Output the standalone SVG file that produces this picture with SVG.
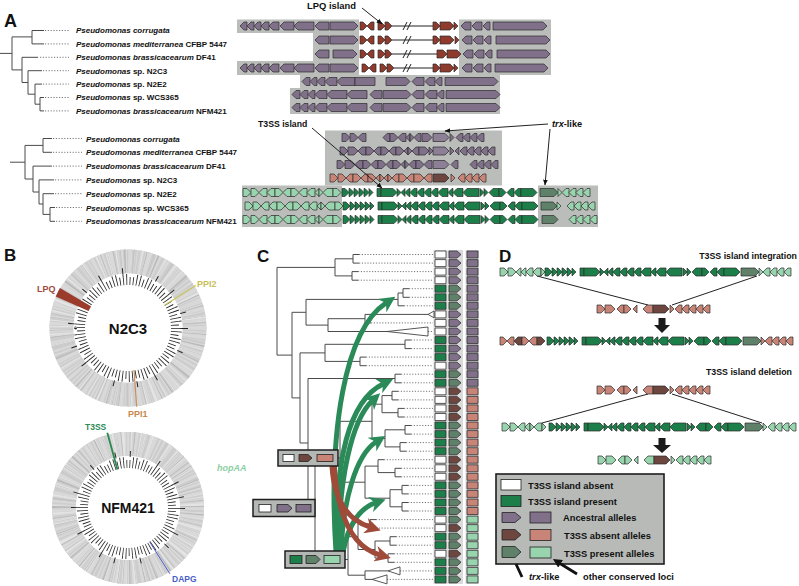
<svg xmlns="http://www.w3.org/2000/svg" width="799" height="586" viewBox="0 0 799 586">
<style>
.t{font-family:"Liberation Sans",Arial,sans-serif;font-weight:bold;fill:#111}
.p{fill:#80708a}.pt{fill:#8d7f96}.br{fill:#8e3a2c}.dg{fill:#1c7f49}.lg{fill:#98d4ad}.tx{fill:#5f8069}.sa{fill:#c98478}.bt{fill:#6e4640}.w{fill:#fff}
.bg{fill:#babdba}
.tr{fill:none;stroke:#4a4a4a;stroke-width:1}
.dot{fill:none;stroke:#555;stroke-width:.8;stroke-dasharray:1.2 1.6}
.ln{fill:none;stroke:#222;stroke-width:1}
</style>
<defs>
<path id="r5" d="M0,-4H1L5,0L1,4H0Z"/>
<path id="r7" d="M0,-4H3L7,0L3,4H0Z"/>
<path id="r8" d="M0,-4H4L8,0L4,4H0Z"/>
<path id="r10" d="M0,-4H6L10,0L6,4H0Z"/>
<path id="r12" d="M0,-4H8L12,0L8,4H0Z"/>
<path id="r14" d="M0,-4H10L14,0L10,4H0Z"/>
<path id="r16" d="M0,-4H12L16,0L12,4H0Z"/>
<path id="r18" d="M0,-4H14L18,0L14,4H0Z"/>
<path id="r20" d="M0,-4H16L20,0L16,4H0Z"/>
<path id="r24" d="M0,-4H20L24,0L20,4H0Z"/>
<path id="r28" d="M0,-4H24L28,0L24,4H0Z"/>
<path id="l5" d="M5,-4H4L0,0L4,4H5Z"/>
<path id="l7" d="M7,-4H4L0,0L4,4H7Z"/>
<path id="l8" d="M8,-4H4L0,0L4,4H8Z"/>
<path id="l10" d="M10,-4H4L0,0L4,4H10Z"/>
<path id="l12" d="M12,-4H4L0,0L4,4H12Z"/>
<path id="l14" d="M14,-4H4L0,0L4,4H14Z"/>
<path id="l16" d="M16,-4H4L0,0L4,4H16Z"/>
<path id="l18" d="M18,-4H4L0,0L4,4H18Z"/>
<path id="l20" d="M20,-4H4L0,0L4,4H20Z"/>
<path id="t4r" d="M0,-4L4,0L0,4Z"/>
<path id="t4l" d="M4,-4L0,0L4,4Z"/>
<path id="rc4" d="M0,-4H4V4H0Z"/>
<path id="rc20" d="M0,-4H20V4H0Z"/>
<path id="cb" d="M0,-3.5H11V3.5H0Z"/>
<path id="ca" d="M0,-3.5H8L12,0L8,3.5H0Z"/>
<g id="isl">
<use href="#r7" x="0"/><use href="#r5" x="7"/><use href="#r5" x="12"/><use href="#r5" x="17"/><use href="#r5" x="22"/><use href="#t4r" x="27"/>
<use href="#rc4" x="35"/><use href="#r16" x="39"/><use href="#t4r" x="55"/><use href="#t4l" x="59"/>
<use href="#l5" x="63"/><use href="#l7" x="68"/><use href="#l7" x="75"/><use href="#l7" x="82"/><use href="#l7" x="89"/><use href="#l10" x="96"/><use href="#l5" x="106"/><use href="#l10" x="111"/><use href="#l16" x="121"/>
<use href="#t4r" x="138"/><use href="#t4r" x="142"/><use href="#l10" x="147"/><use href="#r7" x="157"/><use href="#l7" x="165"/><use href="#l7" x="172"/><use href="#r16" x="179"/>
</g>
<g id="lf">
<use href="#r8" x="0"/><use href="#r8" x="8"/><use href="#l8" x="16"/><use href="#l8" x="24"/><use href="#r8" x="32"/><use href="#l8" x="40"/><use href="#r8" x="48"/><use href="#l8" x="56"/><use href="#l8" x="64"/><use href="#t4l" x="72"/><use href="#t4r" x="76"/><use href="#l10" x="80"/><use href="#r8" x="90"/>
</g>
<g id="frag">
<use href="#r8" x="0"/><use href="#r10" x="8"/><use href="#l7" x="20"/><use href="#r7" x="27"/><use href="#t4l" x="36"/><use href="#l10" x="46"/><use href="#r16" x="56" fill="#6e4640"/><use href="#t4r" x="73"/><use href="#l7" x="78"/><use href="#l7" x="85"/><use href="#l7" x="92"/><use href="#l7" x="99"/><use href="#l7" x="106"/>
</g>
<marker id="mg" viewBox="0 0 10 10" refX="3" refY="5" markerWidth="16" markerHeight="16" markerUnits="userSpaceOnUse" orient="auto"><path d="M0,0L10,5L0,10L3,5Z" fill="#2a8a58"/></marker>
<marker id="mr" viewBox="0 0 10 10" refX="3" refY="5" markerWidth="16" markerHeight="16" markerUnits="userSpaceOnUse" orient="auto"><path d="M0,0L10,5L0,10L3,5Z" fill="#a04a3a"/></marker>
<marker id="mk" viewBox="0 0 10 10" refX="9" refY="5" markerWidth="6" markerHeight="6" markerUnits="userSpaceOnUse" orient="auto"><path d="M0,1L10,5L0,9Z" fill="#111"/></marker>
<marker id="mk2" viewBox="0 0 10 10" refX="6" refY="5" markerWidth="9" markerHeight="9" markerUnits="userSpaceOnUse" orient="auto"><path d="M0,0L10,5L0,10Z" fill="#111"/></marker>
</defs>
<rect width="799" height="586" fill="#fff"/>

<g id="panelA">
<text class="t" x="4" y="27" font-size="18">A</text>
<g id="treeA1">
<path class="tr" d="M0,53.4H12M12,36.9V69.9M12,36.9H32M32,30.5V43.9M32,30.5H44M32,43.9H44M12,69.9H22M22,57.3V82.5M22,57.3H38M22,82.5H28M28,70.7V94.2M28,70.7H42M28,94.2H35M35,84.1V104.2M35,84.1H42M35,104.2H40M40,97.5V110.9M40,97.5H44M40,110.9H44"/>
<path class="dot" d="M45,30.5H69M45,43.9H69M40,57.3H69M43,70.7H69M43,84.1H69M45,97.5H69M45,110.9H69"/>
</g>
<g id="labelsA1" class="t" font-size="8">
<text x="76" y="33.4"><tspan font-style="italic">Pseudomonas corrugata</tspan></text>
<text x="76" y="46.8"><tspan font-style="italic">Pseudomonas mediterranea</tspan> CFBP 5447</text>
<text x="76" y="60.2"><tspan font-style="italic">Pseudomonas brassicacearum</tspan> DF41</text>
<text x="76" y="73.6"><tspan font-style="italic">Pseudomonas</tspan> sp. N2C3</text>
<text x="76" y="87"><tspan font-style="italic">Pseudomonas</tspan> sp. N2E2</text>
<text x="76" y="100.4"><tspan font-style="italic">Pseudomonas</tspan> sp. WCS365</text>
<text x="76" y="113.8"><tspan font-style="italic">Pseudomonas brassicacearum</tspan> NFM421</text>
</g>
<g id="lpqGenes">
<path class="bg" d="M237,19.5H359V75H237V61H313V33H237Z"/>
<rect class="bg" x="459" y="19.5" width="92" height="55.5"/>
<path class="bg" d="M300,75H500V114H290V88H300Z"/>
<path class="ln" stroke-width="0.8" d="M392,26H433M392,40H433M392,54H437M394,68H433M403,30L407,22M407,30L411,22M403,44L407,36M407,44L411,36M403,58L407,50M407,58L411,50M403,72L407,64M407,72L411,64"/>
<g stroke="#2b2b2b" stroke-width="0.7">
<use href="#l7" x="240" y="26" class="p"/><use href="#l7" x="247" y="26" class="p"/><use href="#l7" x="254" y="26" class="p"/><use href="#l8" x="261" y="26" class="p"/><use href="#l10" x="269" y="26" class="p"/><use href="#l14" x="280" y="26" class="p"/><use href="#l20" x="294" y="26" class="p"/><use href="#l14" x="315" y="26" class="p"/><use href="#r28" x="330" y="26" class="p"/>
<use href="#r7" x="360" y="26" class="br"/><use href="#l7" x="367" y="26" class="br"/><use href="#r7" x="378" y="26" class="br"/><use href="#r7" x="385" y="26" class="br"/>
<use href="#r7" x="433" y="26" class="br"/><use href="#r14" x="440" y="26" class="br"/><use href="#t4r" x="454" y="26" class="br"/>
<use href="#l10" x="461" y="26" class="p"/><use href="#l10" x="472" y="26" class="p"/><use href="#l7" x="483" y="26" class="p"/><path class="p" d="M493,22H543L547,26L543,30H493Z"/>

<use href="#l14" x="315" y="40" class="p"/><use href="#r28" x="330" y="40" class="p"/>
<use href="#r7" x="360" y="40" class="br"/><use href="#l7" x="367" y="40" class="br"/><use href="#r7" x="378" y="40" class="br"/><use href="#r7" x="385" y="40" class="br"/>
<use href="#r7" x="433" y="40" class="br"/><use href="#r14" x="440" y="40" class="br"/><use href="#t4r" x="455" y="40" class="br"/>
<use href="#l10" x="462" y="40" class="p"/><use href="#l10" x="473" y="40" class="p"/><use href="#l7" x="484" y="40" class="p"/><path class="p" d="M496,36H546L550,40L546,44H496Z"/>

<use href="#l14" x="315" y="54" class="p"/><use href="#r24" x="333" y="54" class="p"/>
<use href="#r7" x="360" y="54" class="br"/><use href="#l7" x="367" y="54" class="br"/><use href="#r7" x="378" y="54" class="br"/><use href="#r7" x="385" y="54" class="br"/>
<use href="#r10" x="437" y="54" class="br"/><use href="#r14" x="447" y="54" class="br"/>
<use href="#l10" x="463" y="54" class="p"/><use href="#l10" x="474" y="54" class="p"/><use href="#l7" x="485" y="54" class="p"/><path class="p" d="M497,50H546L550,54L546,58H497Z"/>

<use href="#l7" x="240" y="68" class="p"/><use href="#l7" x="247" y="68" class="p"/><use href="#l7" x="254" y="68" class="p"/><use href="#l8" x="261" y="68" class="p"/><use href="#l10" x="269" y="68" class="p"/><use href="#l14" x="280" y="68" class="p"/><use href="#l20" x="294" y="68" class="p"/><use href="#l14" x="315" y="68" class="p"/><use href="#r28" x="330" y="68" class="p"/>
<use href="#r7" x="362" y="68" class="br"/><use href="#l7" x="369" y="68" class="br"/><use href="#r7" x="380" y="68" class="br"/><use href="#r7" x="387" y="68" class="br"/>
<use href="#r7" x="433" y="68" class="br"/><use href="#r14" x="440" y="68" class="br"/><use href="#t4r" x="454" y="68" class="br"/>
<use href="#l10" x="462" y="68" class="p"/><use href="#l10" x="473" y="68" class="p"/><use href="#l7" x="484" y="68" class="p"/><path class="p" d="M495,64H544L548,68L544,72H495Z"/>

<use href="#l8" x="302" y="81.5" class="p"/><use href="#l7" x="310" y="81.5" class="p"/><use href="#l8" x="317" y="81.5" class="p"/><use href="#l12" x="325" y="81.5" class="p"/><use href="#l18" x="337" y="81.5" class="p"/><use href="#rc20" x="355" y="81.5" class="p"/><use href="#r24" x="386" y="81.5" class="p"/><use href="#l12" x="412" y="81.5" class="p"/><use href="#l10" x="425" y="81.5" class="p"/><use href="#l7" x="435" y="81.5" class="p"/><path class="p" d="M445,77.5H494L498,81.5L494,85.5H445Z"/>

<use href="#l8" x="292" y="94.5" class="p"/><use href="#l8" x="300" y="94.5" class="p"/><use href="#l7" x="308" y="94.5" class="p"/><use href="#l12" x="315" y="94.5" class="p"/><use href="#l20" x="327" y="94.5" class="p"/><use href="#l20" x="347" y="94.5" class="p"/><use href="#l12" x="370" y="94.5" class="p"/><use href="#r28" x="383" y="94.5" class="p"/><use href="#l12" x="412" y="94.5" class="p"/><use href="#l12" x="425" y="94.5" class="p"/><use href="#l7" x="437" y="94.5" class="p"/><path class="p" d="M446,90.5H496L500,94.5L496,98.5H446Z"/>

<use href="#l8" x="292" y="107.5" class="p"/><use href="#l8" x="300" y="107.5" class="p"/><use href="#l7" x="308" y="107.5" class="p"/><use href="#l12" x="315" y="107.5" class="p"/><use href="#l20" x="327" y="107.5" class="p"/><use href="#l20" x="347" y="107.5" class="p"/><use href="#l12" x="370" y="107.5" class="p"/><use href="#r28" x="383" y="107.5" class="p"/><use href="#l12" x="412" y="107.5" class="p"/><use href="#l12" x="425" y="107.5" class="p"/><use href="#l7" x="437" y="107.5" class="p"/><path class="p" d="M446,103.5H496L500,107.5L496,111.5H446Z"/>
</g>
<text class="t" x="307" y="9" font-size="9.4">LPQ island</text>
<path class="ln" stroke-width="1.2" d="M362,8L382,24" marker-end="url(#mk)"/>
</g>

<g id="treeA2">
<path class="tr" d="M10,162.2H25M25,145.4V179M25,145.4H43M43,138.5V152.3M43,138.5H52M43,152.3H52M25,179H33M33,166.1V192M33,166.1H52M33,192H39M39,179.9V204M39,179.9H54M39,204H43M43,193.7V214.4M43,193.7H54M43,214.4H50M50,207.5V221.3M50,207.5H55M50,221.3H55"/>
<path class="dot" d="M53,138.5H82M53,152.3H82M53,166.1H82M55,179.9H82M55,193.7H82M56,207.5H82M56,221.3H82"/>
</g>
<g id="labelsA2" class="t" font-size="8">
<text x="86" y="141.5"><tspan font-style="italic">Pseudomonas corrugata</tspan></text>
<text x="86" y="155.3"><tspan font-style="italic">Pseudomonas mediterranea</tspan> CFBP 5447</text>
<text x="86" y="169.1"><tspan font-style="italic">Pseudomonas brassicacearum</tspan> DF41</text>
<text x="86" y="182.9"><tspan font-style="italic">Pseudomonas</tspan> sp. N2C3</text>
<text x="86" y="196.7"><tspan font-style="italic">Pseudomonas</tspan> sp. N2E2</text>
<text x="86" y="210.5"><tspan font-style="italic">Pseudomonas</tspan> sp. WCS365</text>
<text x="86" y="224.3"><tspan font-style="italic">Pseudomonas brassicacearum</tspan> NFM421</text>
</g>
<g id="t3ssGenes">
<rect class="bg" x="325" y="130.5" width="177" height="55"/>
<rect class="bg" x="242" y="185.5" width="100" height="41.5"/>
<rect class="bg" x="538" y="185.5" width="60" height="41.5"/>
<g stroke="#2b2b2b" stroke-width="0.7">
<use href="#r8" x="342" y="137.5" class="p"/><use href="#r8" x="350" y="137.5" class="p"/><use href="#l8" x="358" y="137.5" class="p"/><use href="#l7" x="383" y="137.5" class="p"/><use href="#r8" x="390" y="137.5" class="p"/><use href="#l8" x="398" y="137.5" class="p"/><use href="#t4l" x="406" y="137.5" class="p"/><use href="#t4r" x="410" y="137.5" class="p"/><use href="#l7" x="414" y="137.5" class="p"/><use href="#r10" x="422" y="137.5" class="p"/><use href="#r16" x="433" y="137.5" class="pt"/><use href="#t4r" x="450" y="137.5" class="p"/><use href="#l7" x="456" y="137.5" class="p"/><use href="#l7" x="463" y="137.5" class="p"/><use href="#l7" x="470" y="137.5" class="p"/><use href="#l7" x="477" y="137.5" class="p"/>

<use href="#r8" x="340" y="151" class="p"/><use href="#r10" x="348" y="151" class="p"/><use href="#l8" x="358" y="151" class="p"/><use href="#r8" x="366" y="151" class="p"/><use href="#l7" x="374" y="151" class="p"/><use href="#r8" x="381" y="151" class="p"/><use href="#l7" x="389" y="151" class="p"/><use href="#r8" x="396" y="151" class="p"/><use href="#t4l" x="404" y="151" class="p"/><use href="#t4r" x="408" y="151" class="p"/><use href="#l7" x="412" y="151" class="p"/><use href="#r10" x="419" y="151" class="p"/><use href="#t4r" x="429" y="151" class="p"/><use href="#r16" x="433" y="151" class="pt"/><use href="#t4r" x="450" y="151" class="p"/><use href="#t4l" x="455" y="151" class="p"/><use href="#l7" x="460" y="151" class="p"/><use href="#l7" x="467" y="151" class="p"/><use href="#l7" x="474" y="151" class="p"/><use href="#l7" x="481" y="151" class="p"/><use href="#l7" x="488" y="151" class="p"/>

<use href="#r8" x="337" y="164.5" class="p"/><use href="#r10" x="345" y="164.5" class="p"/><use href="#l8" x="355" y="164.5" class="p"/><use href="#r8" x="363" y="164.5" class="p"/><use href="#l7" x="371" y="164.5" class="p"/><use href="#r8" x="378" y="164.5" class="p"/><use href="#l7" x="386" y="164.5" class="p"/><use href="#r8" x="393" y="164.5" class="p"/><use href="#t4l" x="401" y="164.5" class="p"/><use href="#t4r" x="405" y="164.5" class="p"/><use href="#l7" x="409" y="164.5" class="p"/><use href="#r8" x="416" y="164.5" class="p"/><use href="#l8" x="424" y="164.5" class="p"/><use href="#r16" x="433" y="164.5" class="pt"/><use href="#l7" x="451" y="164.5" class="p"/><use href="#l7" x="470" y="164.5" class="p"/><use href="#l7" x="477" y="164.5" class="p"/><use href="#l7" x="484" y="164.5" class="p"/><use href="#l7" x="491" y="164.5" class="p"/>

<use href="#r8" x="330" y="178" class="sa"/><use href="#r8" x="338" y="178" class="sa"/><use href="#l7" x="346" y="178" class="sa"/><use href="#r8" x="353" y="178" class="sa"/><use href="#l7" x="361" y="178" class="sa"/><use href="#r8" x="368" y="178" class="sa"/><use href="#t4l" x="376" y="178" class="sa"/><use href="#t4r" x="380" y="178" class="sa"/><use href="#t4l" x="384" y="178" class="sa"/><use href="#t4r" x="388" y="178" class="sa"/><use href="#l7" x="392" y="178" class="sa"/><use href="#r8" x="399" y="178" class="sa"/><use href="#l7" x="407" y="178" class="sa"/><use href="#r10" x="414" y="178" class="sa"/><use href="#l8" x="424" y="178" class="sa"/><use href="#r16" x="433" y="178" class="bt"/><use href="#t4r" x="451" y="178" class="sa"/><use href="#l7" x="458" y="178" class="sa"/><use href="#l7" x="465" y="178" class="sa"/><use href="#l7" x="472" y="178" class="sa"/><use href="#l7" x="479" y="178" class="sa"/>

<use href="#lf" x="243" y="192.5" class="lg"/><use href="#isl" x="342" y="192.5" class="dg"/><use href="#r18" x="540" y="192.5" class="tx"/><use href="#t4r" x="558" y="192.5" class="lg"/><use href="#l7" x="562" y="192.5" class="lg"/><use href="#l7" x="569" y="192.5" class="lg"/><use href="#l7" x="576" y="192.5" class="lg"/><use href="#l7" x="583" y="192.5" class="lg"/>
<use href="#lf" x="245" y="206" class="lg"/><use href="#isl" x="343" y="206" class="dg"/><use href="#r16" x="541" y="206" class="tx"/><use href="#t4r" x="557" y="206" class="lg"/><use href="#l7" x="567" y="206" class="lg"/><use href="#l7" x="574" y="206" class="lg"/><use href="#l7" x="581" y="206" class="lg"/><use href="#l7" x="588" y="206" class="lg"/>
<use href="#lf" x="243" y="219.5" class="lg"/><use href="#isl" x="343" y="219.5" class="dg"/><use href="#r16" x="542" y="219.5" class="tx"/><use href="#l7" x="569" y="219.5" class="lg"/><use href="#l7" x="576" y="219.5" class="lg"/><use href="#l7" x="583" y="219.5" class="lg"/><use href="#l7" x="590" y="219.5" class="lg"/>
</g>
<text class="t" x="258" y="127" font-size="8.7">T3SS island</text>
<text class="t" x="552" y="127" font-size="9.2"><tspan font-style="italic">trx</tspan>-like</text>
<path class="ln" stroke-width="1.2" d="M312,128L382,188" marker-end="url(#mk)"/>
<path class="ln" stroke-width="1.2" d="M548,124L445,131" marker-end="url(#mk)"/>
<path class="ln" stroke-width="1.2" d="M550,129L545,185" marker-end="url(#mk)"/>
</g>
</g>

<g id="panelB">
<text class="t" x="4" y="261" font-size="17">B</text>
<g id="ringN2C3">
<circle cx="128" cy="328" r="66.5" fill="none" stroke="#cdcdcd" stroke-width="24"/>
<circle cx="128" cy="328" r="66.5" fill="none" stroke="#e4e4e4" stroke-width="24" pathLength="360" stroke-dasharray="0.8 2.1 0.5 3.3 1.4 1.7 0.6 4.2 2.2 2.8 0.4 1.9 1.1 3.5"/>
<circle cx="128" cy="328" r="66.5" fill="none" stroke="#b9b9b9" stroke-width="24" pathLength="360" stroke-dasharray="0.5 3.7 0.9 5.1 0.3 2.4 1.2 6.3 0.6 4.4"/>
<circle cx="128" cy="328" r="66.5" fill="none" stroke="#d9d9d9" stroke-width="24" pathLength="360" stroke-dasharray="1.5 2.3 0.7 1.1 2.9 3.6 0.9 1.7"/>
<circle cx="128" cy="328" r="54.5" fill="#fff"/>
<circle cx="128" cy="328" r="47" fill="none" stroke="#222" stroke-width="8" pathLength="360" stroke-dasharray="1 3"/>
<circle cx="128" cy="328" r="52.5" fill="none" stroke="#222" stroke-width="3" pathLength="360" stroke-dasharray="1 3 1 7 1 3 1 11"/>
<circle cx="128" cy="328" r="57" fill="none" stroke="#222" stroke-width="6" pathLength="360" stroke-dasharray="1 23 1 35 1 19"/>
<path d="M55.6,296.5L59.9,287.9L91,306.2L88.6,310.9Z" fill="#9a3b2c"/>
<path d="M164.5,305.2L195.8,285.6" stroke="#c8c45a" stroke-width="1.2"/>
<path d="M134,370L136.7,406.7" stroke="#c8925a" stroke-width="1.2"/>
<text class="t" x="128" y="333.5" font-size="15" text-anchor="middle">N2C3</text>
<text class="t" x="37" y="292" font-size="9" style="fill:#a34a3c">LPQ</text>
<text class="t" x="197" y="287" font-size="9" style="fill:#c9c05a">PPI2</text>
<text class="t" x="128" y="417" font-size="9" style="fill:#c8874f">PPI1</text>
</g>
<g id="ringNFM421">
<circle cx="128" cy="508" r="64" fill="none" stroke="#cdcdcd" stroke-width="24"/>
<circle cx="128" cy="508" r="64" fill="none" stroke="#e4e4e4" stroke-width="24" pathLength="360" stroke-dasharray="1.1 2.6 0.6 3.1 1.8 1.4 0.7 3.9 2.5 2.2 0.5 2.3"/>
<circle cx="128" cy="508" r="64" fill="none" stroke="#b9b9b9" stroke-width="24" pathLength="360" stroke-dasharray="0.6 4.1 1.0 4.8 0.4 2.9 1.3 5.7"/>
<circle cx="128" cy="508" r="64" fill="none" stroke="#d9d9d9" stroke-width="24" pathLength="360" stroke-dasharray="1.3 2.7 0.8 1.3 2.4 3.2 1.0 1.5"/>
<circle cx="128" cy="508" r="52" fill="#fff"/>
<circle cx="128" cy="508" r="44" fill="none" stroke="#222" stroke-width="8" pathLength="360" stroke-dasharray="1 3"/>
<circle cx="128" cy="508" r="49.5" fill="none" stroke="#222" stroke-width="3" pathLength="360" stroke-dasharray="1 7 1 3 1 11 1 3"/>
<circle cx="128" cy="508" r="54" fill="none" stroke="#222" stroke-width="6" pathLength="360" stroke-dasharray="1 27 1 15 1 31"/>
<path d="M117.4,469.4L107.3,432.8" stroke="#2a8a50" stroke-width="1.8"/>
<path d="M149.5,541.7L169.9,573.8" stroke="#4a5ec8" stroke-width="1"/>
<text class="t" x="128" y="513" font-size="14" text-anchor="middle">NFM421</text>
<text class="t" x="85" y="430" font-size="8.5" style="fill:#2e8a55">T3SS</text>
<text class="t" x="217" y="471" font-size="9" font-style="italic" style="fill:#8ccfa4">hopAA</text>
<text class="t" x="172" y="582" font-size="8.5" style="fill:#4a5ec8">DAPG</text>
</g>
</g>

<g id="panelC">
<text class="t" x="257" y="262" font-size="17">C</text>
<g id="colStrips" fill="#dadada">
<rect x="433.5" y="250" width="14" height="334"/><rect x="447.5" y="250" width="15.5" height="334"/><rect x="465.5" y="250" width="13.5" height="334"/>
</g>
<g id="columns" stroke="#333" stroke-width="0.8">
<use href="#cb" x="435" y="254.5" class="w"/><use href="#ca" x="449" y="254.5" class="p"/><use href="#cb" x="467" y="254.5" class="p"/>
<use href="#cb" x="435" y="263.1" class="w"/><use href="#ca" x="449" y="263.1" class="p"/><use href="#cb" x="467" y="263.1" class="p"/>
<use href="#cb" x="435" y="271.6" class="w"/><use href="#ca" x="449" y="271.6" class="p"/><use href="#cb" x="467" y="271.6" class="p"/>
<use href="#cb" x="435" y="280.2" class="w"/><use href="#ca" x="449" y="280.2" class="p"/><use href="#cb" x="467" y="280.2" class="p"/>
<use href="#cb" x="435" y="288.7" class="dg"/><use href="#ca" x="449" y="288.7" class="tx"/><use href="#cb" x="467" y="288.7" class="p"/>
<use href="#cb" x="435" y="297.3" class="dg"/><use href="#ca" x="449" y="297.3" class="tx"/><use href="#cb" x="467" y="297.3" class="p"/>
<use href="#cb" x="435" y="305.8" class="dg"/><use href="#ca" x="449" y="305.8" class="tx"/><use href="#cb" x="467" y="305.8" class="p"/>
<use href="#cb" x="435" y="314.4" class="w"/><use href="#ca" x="449" y="314.4" class="p"/><use href="#cb" x="467" y="314.4" class="p"/>
<use href="#cb" x="435" y="322.9" class="w"/><use href="#ca" x="449" y="322.9" class="p"/><use href="#cb" x="467" y="322.9" class="p"/>
<use href="#cb" x="435" y="331.5" class="w"/><use href="#ca" x="449" y="331.5" class="p"/><use href="#cb" x="467" y="331.5" class="p"/>
<use href="#cb" x="435" y="340" class="dg"/><use href="#ca" x="449" y="340" class="p"/><use href="#cb" x="467" y="340" class="p"/>
<use href="#cb" x="435" y="348.6" class="dg"/><use href="#ca" x="449" y="348.6" class="p"/><use href="#cb" x="467" y="348.6" class="p"/>
<use href="#cb" x="435" y="357.1" class="dg"/><use href="#ca" x="449" y="357.1" class="p"/><use href="#cb" x="467" y="357.1" class="p"/>
<use href="#cb" x="435" y="365.7" class="w"/><use href="#ca" x="449" y="365.7" class="p"/><use href="#cb" x="467" y="365.7" class="p"/>
<use href="#cb" x="435" y="374.2" class="dg"/><use href="#ca" x="449" y="374.2" class="tx"/><use href="#cb" x="467" y="374.2" class="p"/>
<use href="#cb" x="435" y="382.8" class="dg"/><use href="#ca" x="449" y="382.8" class="tx"/><use href="#cb" x="467" y="382.8" class="p"/>
<use href="#cb" x="435" y="391.3" class="w"/><use href="#ca" x="449" y="391.3" class="bt"/><use href="#cb" x="467" y="391.3" class="sa"/>
<use href="#cb" x="435" y="399.9" class="w"/><use href="#ca" x="449" y="399.9" class="bt"/><use href="#cb" x="467" y="399.9" class="sa"/>
<use href="#cb" x="435" y="408.4" class="w"/><use href="#ca" x="449" y="408.4" class="bt"/><use href="#cb" x="467" y="408.4" class="sa"/>
<use href="#cb" x="435" y="417" class="w"/><use href="#ca" x="449" y="417" class="bt"/><use href="#cb" x="467" y="417" class="sa"/>
<use href="#cb" x="435" y="425.5" class="dg"/><use href="#ca" x="449" y="425.5" class="tx"/><use href="#cb" x="467" y="425.5" class="sa"/>
<use href="#cb" x="435" y="434.1" class="dg"/><use href="#ca" x="449" y="434.1" class="tx"/><use href="#cb" x="467" y="434.1" class="sa"/>
<use href="#cb" x="435" y="442.6" class="dg"/><use href="#ca" x="449" y="442.6" class="tx"/><use href="#cb" x="467" y="442.6" class="sa"/>
<use href="#cb" x="435" y="451.2" class="dg"/><use href="#ca" x="449" y="451.2" class="tx"/><use href="#cb" x="467" y="451.2" class="sa"/>
<use href="#cb" x="435" y="459.7" class="w"/><use href="#ca" x="449" y="459.7" class="bt"/><use href="#cb" x="467" y="459.7" class="sa"/>
<use href="#cb" x="435" y="468.3" class="w"/><use href="#ca" x="449" y="468.3" class="bt"/><use href="#cb" x="467" y="468.3" class="sa"/>
<use href="#cb" x="435" y="476.8" class="w"/><use href="#ca" x="449" y="476.8" class="bt"/><use href="#cb" x="467" y="476.8" class="sa"/>
<use href="#cb" x="435" y="485.4" class="dg"/><use href="#ca" x="449" y="485.4" class="tx"/><use href="#cb" x="467" y="485.4" class="sa"/>
<use href="#cb" x="435" y="493.9" class="dg"/><use href="#ca" x="449" y="493.9" class="tx"/><use href="#cb" x="467" y="493.9" class="sa"/>
<use href="#cb" x="435" y="502.5" class="dg"/><use href="#ca" x="449" y="502.5" class="tx"/><use href="#cb" x="467" y="502.5" class="sa"/>
<use href="#cb" x="435" y="511" class="dg"/><use href="#ca" x="449" y="511" class="tx"/><use href="#cb" x="467" y="511" class="sa"/>
<use href="#cb" x="435" y="519.6" class="w"/><use href="#ca" x="449" y="519.6" class="tx"/><use href="#cb" x="467" y="519.6" class="lg"/>
<use href="#cb" x="435" y="528.1" class="w"/><use href="#ca" x="449" y="528.1" class="bt"/><use href="#cb" x="467" y="528.1" class="lg"/>
<use href="#cb" x="435" y="536.7" class="dg"/><use href="#ca" x="449" y="536.7" class="tx"/><use href="#cb" x="467" y="536.7" class="lg"/>
<use href="#cb" x="435" y="545.2" class="dg"/><use href="#ca" x="449" y="545.2" class="tx"/><use href="#cb" x="467" y="545.2" class="lg"/>
<use href="#cb" x="435" y="553.8" class="w"/><use href="#ca" x="449" y="553.8" class="bt"/><use href="#cb" x="467" y="553.8" class="lg"/>
<use href="#cb" x="435" y="562.3" class="dg"/><use href="#ca" x="449" y="562.3" class="tx"/><use href="#cb" x="467" y="562.3" class="lg"/>
<use href="#cb" x="435" y="570.9" class="dg"/><use href="#ca" x="449" y="570.9" class="tx"/><use href="#cb" x="467" y="570.9" class="lg"/>
<use href="#cb" x="435" y="579.4" class="dg"/><use href="#ca" x="449" y="579.4" class="tx"/><use href="#cb" x="467" y="579.4" class="lg"/>
</g>
<g id="treeC">
<path class="tr" d="M277,267.4V355.1M277,267.4H335M335,258.8V275.9M335,258.8H353M353,254.5V263.1M335,275.9H352M352,271.6V280.2M277,355.1H292M292,312.3V397.9M292,312.3H306M306,299.4V325.1M306,299.4H398M398,293V305.8M398,293H403M403,288.7V297.3M306,325.1H328M328,318.7V331.5M328,318.7H365M365,314.4V322.9M292,397.9H300M300,352.9V443M300,352.9H325M325,344.3V361.4M325,344.3H405M405,340V348.6M325,361.4H360M360,357.1V365.7M300,443H308M308,378.5V508M308,378.5H395M395,374.2V382.8M308,508H315M315,458V559.5M315,458H340M340,421.3V482.2M340,421.3H372M372,404.2V438.4M372,404.2H382M382,395.6V412.7M382,395.6H392M392,391.3V399.9M382,412.7H398M398,408.4V417M372,438.4H385M385,429.8V446.9M385,429.8H405M405,425.5V434.1M385,446.9H400M400,442.6V451.2M340,482.2H365M365,466.1V498.2M365,466.1H378M378,459.7V472.6M378,472.6H395M395,468.3V476.8M365,498.2H390M390,489.7V506.8M390,489.7H402M402,485.4V493.9M390,506.8H402M402,502.5V511M315,559.5H348M348,536.7V575.2M348,536.7H358M358,523.9V549.5M358,523.9H370M370,519.6V528.1M358,549.5H375M375,541V558M375,541H390M390,536.7V545.2M375,558H388M388,553.8V562.3M348,575.2H365M365,570.9V579.4"/>
<path class="tr" d="M353,254.5h6M353,263.1h6M352,271.6h6M352,280.2h6M403,288.7h6M403,297.3h6M398,305.8h6M365,314.4H428M365,322.9h6M328,331.5H387M405,340h6M405,348.6h6M360,357.1h6M360,365.7h6M395,374.2h6M395,382.8h6M392,391.3h6M392,399.9h6M398,408.4h6M398,417h6M405,425.5h6M405,434.1h6M400,442.6h6M400,451.2h6M378,459.7h6M395,468.3h6M395,476.8h6M402,485.4h6M402,493.9h6M402,502.5h6M402,511h6M370,519.6h6M370,528.1h6M390,536.7h6M390,545.2h6M388,553.8h6M388,562.3h6M365,570.9H388M365,579.4H372"/>
<path class="dot" d="M359,254.5H433M359,263.1H433M358,271.6H433M358,280.2H433M409,288.7H433M409,297.3H433M404,305.8H433M371,322.9H433M428,331.5H433M411,340H433M411,348.6H433M366,357.1H433M366,365.7H433M401,374.2H433M401,382.8H433M398,391.3H433M398,399.9H433M404,408.4H433M404,417H433M411,425.5H433M411,434.1H433M406,442.6H433M406,451.2H433M384,459.7H433M401,468.3H433M401,476.8H433M408,485.4H433M408,493.9H433M408,502.5H433M408,511H433M376,519.6H433M376,528.1H433M396,536.7H433M396,545.2H433M394,553.8H433M394,562.3H433M400,570.9H433M387,579.4H433"/>
<path d="M428,314.4L434,311L434,317.8ZM387,331.5L428,327L428,336ZM388,570.9L400,566.9L400,574.9ZM372,579.4L387,574.9L387,583.9Z" fill="#fff" stroke="#444" stroke-width="0.9"/>
</g>
<g id="transfers" fill="none" stroke-width="5">
<path d="M336,552C328,430 345,330 386,303" stroke="#2a8a58" marker-end="url(#mg)"/>
<path d="M338,552C333,460 350,400 383,384" stroke="#2a8a58" marker-end="url(#mg)"/>
<path d="M339,552C338,480 352,420 372,401" stroke="#2a8a58" marker-end="url(#mg)"/>
<path d="M341,552C343,500 356,455 376,442" stroke="#2a8a58" marker-end="url(#mg)"/>
<path d="M343,552C348,525 360,508 375,503" stroke="#2a8a58" marker-end="url(#mg)"/>
<path d="M332,466C334,500 348,520 370,527" stroke="#a04a3a" marker-end="url(#mr)"/>
<path d="M334,466C338,520 355,548 380,555" stroke="#a04a3a" marker-end="url(#mr)"/>
</g>
<g id="stateA">
<rect x="278" y="450" width="60" height="16" fill="#b4b8b4" stroke="#1e1e1e" stroke-width="1.5"/>
<g stroke="#222" stroke-width="0.8"><rect x="283" y="454.5" width="11" height="7" class="w"/><path d="M299,454.5H308L312,458L308,461.5H299Z" class="bt"/><rect x="317" y="454.5" width="16" height="7" class="sa"/></g>
</g>
<g id="stateB">
<rect x="253" y="499.5" width="62" height="17" fill="#b4b8b4" stroke="#1e1e1e" stroke-width="1.5"/>
<g stroke="#222" stroke-width="0.8"><rect x="259" y="504.5" width="12" height="7.5" class="w"/><path d="M277,504.5H288L292,508.25L288,512H277Z" class="p"/><rect x="296" y="504.5" width="15" height="7.5" class="p"/></g>
</g>
<g id="stateC">
<rect x="285" y="551" width="60" height="17" fill="#b4b8b4" stroke="#1e1e1e" stroke-width="1.5"/>
<g stroke="#222" stroke-width="0.8"><rect x="290" y="555.5" width="12" height="8" class="dg"/><path d="M306,555.5H316L320,559.5L316,563.5H306Z" class="tx"/><rect x="324" y="555.5" width="16" height="8" class="lg"/></g>
</g>
</g>

<g id="panelD">
<text class="t" x="499" y="262" font-size="17">D</text>
<text class="t" x="797" y="259" font-size="8.8" text-anchor="end">T3SS island integration</text>
<text class="t" x="792" y="375" font-size="8.8" text-anchor="end">T3SS island deletion</text>
<g id="dLines" class="ln">
<path d="M537,276L648,305M757,276L672,305M648,394L542,423M672,394L762,423"/>
</g>
<g stroke="#2b2b2b" stroke-width="0.7">
<use href="#r8" x="500" y="272" class="lg"/><use href="#r8" x="508" y="272" class="lg"/><use href="#l5" x="516" y="272" class="lg"/><use href="#l5" x="521" y="272" class="lg"/><use href="#l7" x="526" y="272" class="lg"/><use href="#l8" x="533" y="272" class="lg"/><use href="#t4r" x="541" y="272" class="lg"/>
<use href="#isl" x="545" y="272" class="dg"/><use href="#r18" x="741" y="272" class="tx"/><use href="#t4r" x="759" y="272" class="lg"/><use href="#l7" x="763" y="272" class="lg"/><use href="#l7" x="770" y="272" class="lg"/><use href="#l7" x="777" y="272" class="lg"/><use href="#l7" x="784" y="272" class="lg"/>
<use href="#frag" x="597" y="309" class="sa"/>
<use href="#r7" x="500" y="341" class="sa"/><use href="#l7" x="507" y="341" class="sa"/><use href="#l8" x="514" y="341" class="bt"/><use href="#r7" x="522" y="341" class="sa"/><use href="#l8" x="529" y="341" class="sa"/><use href="#r8" x="537" y="341" class="bt"/>
<use href="#isl" x="547" y="341" class="dg"/><use href="#r18" x="743" y="341" class="tx"/><use href="#t4r" x="761" y="341" class="sa"/><use href="#l7" x="765" y="341" class="sa"/><use href="#l7" x="772" y="341" class="sa"/><use href="#l7" x="779" y="341" class="sa"/><use href="#l7" x="786" y="341" class="sa"/>
<use href="#frag" x="597" y="390" class="sa"/>
<use href="#r8" x="502" y="427" class="lg"/><use href="#r8" x="510" y="427" class="lg"/><use href="#l7" x="518" y="427" class="lg"/><use href="#l5" x="525" y="427" class="lg"/><use href="#t4r" x="530" y="427" class="lg"/><use href="#l8" x="534" y="427" class="lg"/><use href="#t4r" x="542" y="427" class="lg"/>
<use href="#isl" x="549" y="427" class="dg"/><use href="#r18" x="745" y="427" class="tx"/><use href="#t4r" x="763" y="427" class="lg"/><use href="#l7" x="768" y="427" class="lg"/><use href="#l7" x="775" y="427" class="lg"/><use href="#l7" x="782" y="427" class="lg"/><use href="#l7" x="789" y="427" class="lg"/>
<use href="#frag" x="598" y="460" class="lg"/>
</g>
<path d="M658.5,318H665.5V325H670L662,333L654,325H658.5Z" fill="#1a1a1a"/>
<path d="M658.5,438H665.5V445H671L662,453L653,445H658.5Z" fill="#1a1a1a"/>
<g id="legend">
<rect x="496" y="474" width="168" height="90" fill="#b7bab7" stroke="#1e1e1e" stroke-width="1.6"/>
<g stroke="#222" stroke-width="0.8">
<rect x="501" y="479.5" width="20" height="10.5" class="w"/>
<rect x="501" y="495.5" width="20" height="11" class="dg"/>
<path d="M502,512.5H515L521,517.5L515,522.5H502Z" class="p"/><rect x="530" y="512" width="21" height="11" class="p"/>
<path d="M502,529.5H515L521,534.75L515,540H502Z" class="bt"/><rect x="530" y="529.5" width="21" height="11" class="sa"/>
<path d="M502,546.5H515L521,552L515,557.5H502Z" class="tx"/><rect x="530" y="547" width="21" height="11" class="lg"/>
</g>
<g class="t" font-size="9.3">
<text x="528" y="489">T3SS island absent</text>
<text x="528" y="504.5">T3SS island present</text>
<text x="563" y="521">Ancestral alleles</text>
<text x="564" y="538.8">T3SS absent alleles</text>
<text x="564" y="556.5">T3SS present alleles</text>
<text x="529" y="580"><tspan font-style="italic">trx</tspan>-like</text>
<text x="583" y="580">other conserved loci</text>
</g>
<path d="M522,577L516,564M577,574L556,561" stroke="#111" stroke-width="2.8" fill="none" marker-end="url(#mk2)"/>
</g>
</g>
</svg>
